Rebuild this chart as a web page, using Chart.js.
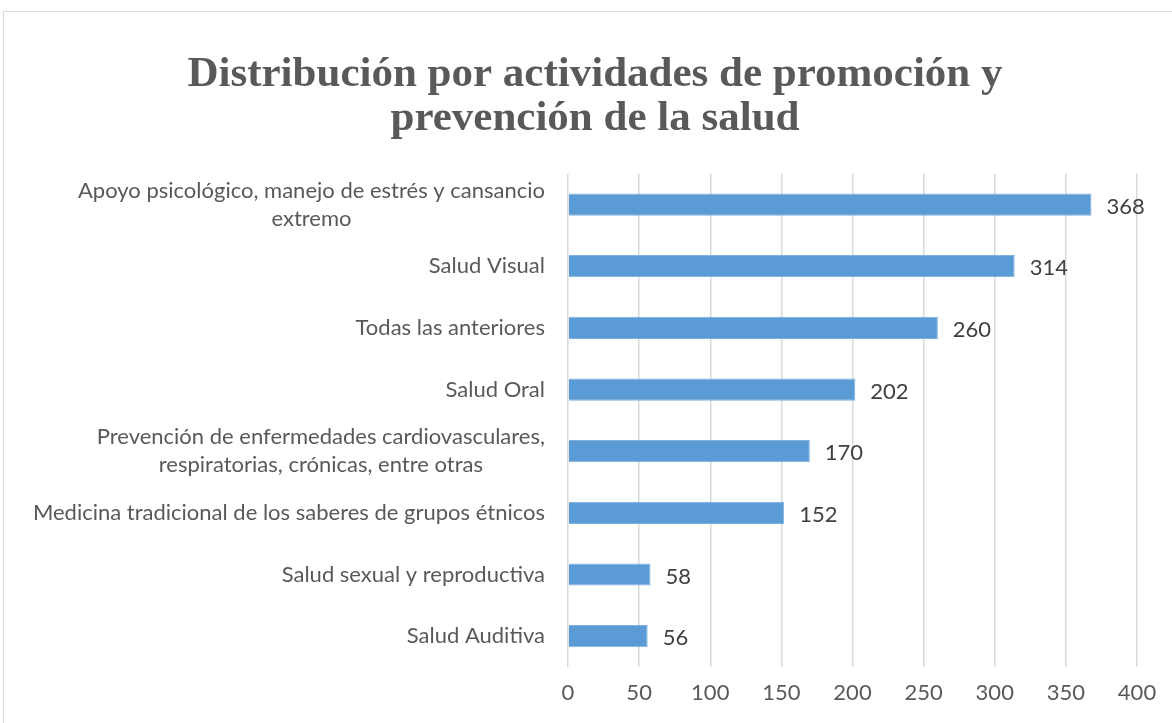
<!DOCTYPE html>
<html>
<head>
<meta charset="utf-8">
<script src="https://cdn.jsdelivr.net/npm/chart.js@4"></script>
<style>
  html, body { margin: 0; padding: 0; background: #fff; overflow: hidden; }
  #frame { position: absolute; left: 3px; top: 11px; width: 1300px; height: 900px; border: 1px solid #d9d9d9; }
  #chart { position: absolute; left: 0; top: 0; }
</style>
</head>
<body>
<div id="frame"></div>
<canvas id="chart" width="1172" height="723"></canvas>
<script>
// Chart data
const categories = [
  ["Apoyo psicológico, manejo de estrés y cansancio", "extremo"],
  ["Salud Visual"],
  ["Todas las anteriores"],
  ["Salud Oral"],
  ["Prevención de enfermedades cardiovasculares,", "respiratorias, crónicas, entre otras"],
  ["Medicina tradicional de los saberes de grupos étnicos"],
  ["Salud sexual y reproductiva"],
  ["Salud Auditiva"]
];
const values = [368, 314, 260, 202, 170, 152, 58, 56];
const titleLines = ["Distribución por actividades de promoción y", "prevención de la salud"];

const labelFont = "22px Lato, 'Open Sans', sans-serif";
const textColor = "#595959";

// Category labels: block right aligned, lines centered inside the block (like Excel)
const categoryLabels = {
  id: "categoryLabels",
  afterDraw(chart) {
    const ctx = chart.ctx;
    const yScale = chart.scales.y;
    const right = chart.chartArea.left - 23;
    const lineH = 28;
    ctx.save();
    ctx.font = labelFont;
    ctx.fillStyle = textColor;
    ctx.textBaseline = "middle";
    ctx.textAlign = "center";
    categories.forEach((lines, i) => {
      const y = yScale.getPixelForTick(i);
      const w = Math.max(...lines.map(l => ctx.measureText(l).width));
      const cx = right - w / 2;
      const top = y - (lines.length - 1) * lineH / 2;
      lines.forEach((l, j) => ctx.fillText(l, cx, top + j * lineH));
    });
    ctx.restore();
  }
};

// Value labels at the end of each bar
const valueLabels = {
  id: "valueLabels",
  afterDatasetsDraw(chart) {
    const ctx = chart.ctx;
    const meta = chart.getDatasetMeta(0);
    ctx.save();
    ctx.font = labelFont;
    ctx.fillStyle = "#404040";
    ctx.textBaseline = "middle";
    ctx.textAlign = "left";
    meta.data.forEach((bar, i) => {
      ctx.fillText(String(values[i]), bar.x + 15, bar.y + 2);
    });
    ctx.restore();
  }
};

new Chart(document.getElementById("chart"), {
  type: "bar",
  data: {
    labels: categories.map(c => c.join(" ")),
    datasets: [
      {
        data: values,
        backgroundColor: "#5b9bd5",
        borderColor: "#7fb1e0",
        borderWidth: 1,
        barPercentage: 0.36,
        categoryPercentage: 1
      }
    ]
  },
  options: {
    indexAxis: "y",
    responsive: false,
    maintainAspectRatio: false,
    animation: false,
    devicePixelRatio: 1,
    layout: { padding: { left: 53, right: 35, top: 0, bottom: 0 } },
    plugins: {
      legend: { display: false },
      tooltip: { enabled: false },
      title: {
        display: true,
        text: titleLines,
        color: "#595959",
        font: { family: "'Liberation Serif', 'DejaVu Serif', serif", size: 43, weight: "bold", lineHeight: 1.02 },
        padding: { top: 53, bottom: 33 }
      }
    },
    scales: {
      x: {
        min: 0,
        max: 400,
        ticks: {
          stepSize: 50,
          color: textColor,
          font: { family: "Lato, 'Open Sans', sans-serif", size: 22 },
          padding: 13
        },
        grid: { color: "#d9d9d9", lineWidth: 1.5, drawTicks: false },
        border: { display: false },
        afterFit(scale) { scale.height = 56; }
      },
      y: {
        ticks: { display: false },
        grid: { display: false, drawTicks: false },
        border: { display: false },
        afterFit(scale) { scale.width = 515; }
      }
    }
  },
  plugins: [categoryLabels, valueLabels]
});
</script>
</body>
</html>
